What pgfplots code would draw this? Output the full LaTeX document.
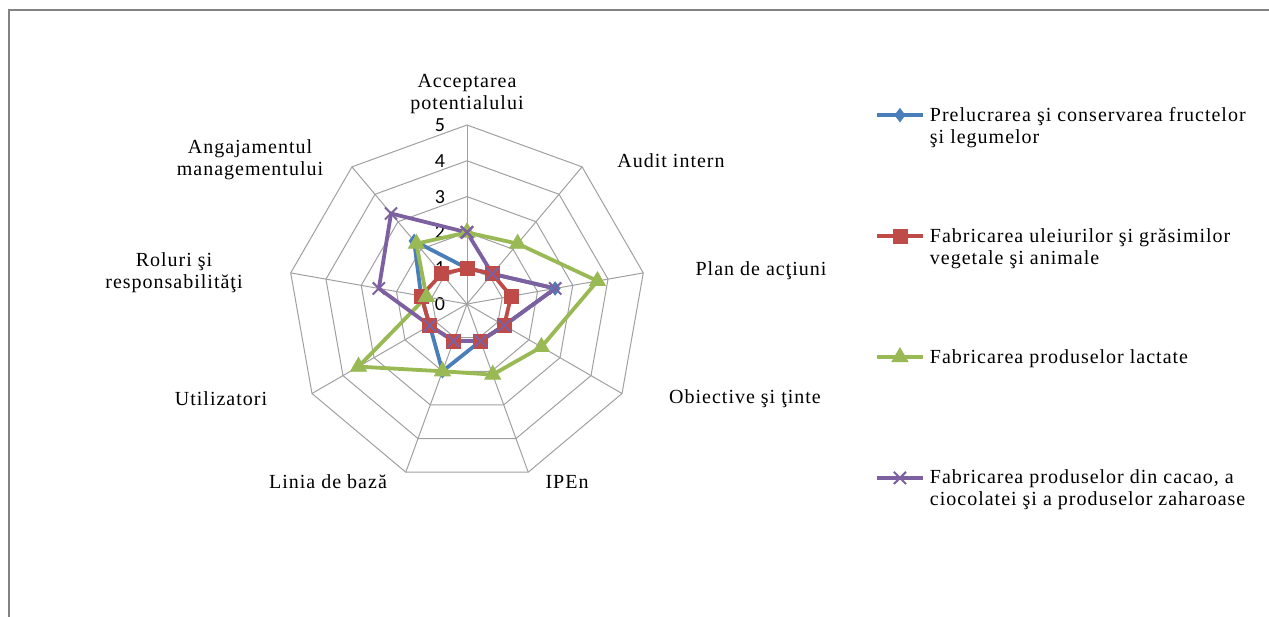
\documentclass[border=0pt]{standalone}
\usepackage{fontspec}
\setmainfont{Liberation Serif}[LetterSpace=5]
\newfontfamily\numfont{Carlito}
\usepackage{pgfplots}
\pgfplotsset{compat=1.18}
\usepgfplotslibrary{polar}
\definecolor{cblue}{RGB}{74,126,187}
\definecolor{cred}{RGB}{190,75,72}
\definecolor{cgreen}{RGB}{152,185,84}
\definecolor{cpurple}{RGB}{125,96,160}
\definecolor{cgrid}{RGB}{160,160,160}
\begin{document}
\begin{tikzpicture}
\path[use as bounding box] (0,0) rectangle (634.5pt,308pt);
\begin{scope}[x=0.5pt,y=-0.5pt,shift={(0pt,308pt)}]
  \draw[color={rgb,255:red,130;green,130;blue,130}, line width=1.1pt] (9,640) -- (9,10) -- (1290,10);
  \begin{scope}[every node/.style={inner sep=0pt, font=\fontsize{10}{11}\selectfont}]
    \node[align=center] at (467,94) {Acceptarea\\potentialului};
    \node at (671,161) {Audit intern};
    \node at (761,271) {Plan de acţiuni};
    \node at (745,399) {Obiective şi ţinte};
    \node at (567,482) {IPEn};
    \node at (328,482) {Linia de bază};
    \node at (221,399) {Utilizatori};
    \node[align=center] at (174,273) {Roluri şi\\responsabilităţi};
    \node[align=center] at (250,160) {Angajamentul\\managementului};
  \end{scope}
  \begin{scope}[every node/.style={inner sep=0pt, font=\numfont\fontsize{10}{12}\selectfont}]
    \node at (440,304) {0};
    \node at (440,268.2) {1};
    \node at (440,232.4) {2};
    \node at (440,196.6) {3};
    \node at (440,160.8) {4};
    \node at (440,125) {5};
  \end{scope}
\end{scope}
\begin{polaraxis}[
  at={(233.5pt,156pt)}, anchor=origin,
  scale only axis, width=179pt, height=179pt,
  hide axis, ymin=0, ymax=5, clip=false,
  legend style={at={(axis description cs:1.644,1.062)}, anchor=north west, draw=none, fill=none,
    inner sep=0pt, row sep=37pt, font=\fontsize{10}{11}\selectfont,
    cells={align=left, anchor=west}},
  legend cell align=left,
  legend image code/.code={\path[draw=none, fill=none, use as bounding box] (0pt,-9pt) rectangle (24.5pt,9pt);
    \draw[mark repeat=2,mark phase=2,#1] plot coordinates {(0pt,5.8pt) (11.5pt,5.8pt) (23pt,5.8pt)};},
]
% grid rings
\pgfplotsinvokeforeach{1,2,3,4,5}{
  \addplot[cgrid, line width=0.5pt, forget plot] coordinates {(90,#1) (50,#1) (10,#1) (-30,#1) (-70,#1) (-110,#1) (-150,#1) (170,#1) (130,#1) (90,#1)};
}
% spokes
\pgfplotsinvokeforeach{90,50,10,-30,-70,-110,-150,170,130}{
  \addplot[cgrid, line width=0.5pt, forget plot] coordinates {(#1,0) (#1,5)};
}
\addplot[cblue, line width=1.9pt, mark=diamond*, mark size=3.3pt, mark options={solid, line width=0.4pt}]
  coordinates {(90,1) (50,1.1) (10,2.5) (-30,1.2) (-70,1.1) (-110,2) (-150,1.2) (170,1.3) (130,2.3) (90,1)};
\addlegendentry{Prelucrarea şi conservarea fructelor\\şi legumelor}
\addplot[cred, line width=1.9pt, mark=square*, mark size=3.5pt, mark options={solid, line width=0.4pt}]
  coordinates {(90,1) (50,1.1) (10,1.25) (-30,1.2) (-70,1.1) (-110,1.1) (-150,1.2) (170,1.3) (130,1.1) (90,1)};
\addlegendentry{Fabricarea uleiurilor şi grăsimilor\\vegetale şi animale}
\addplot[cgreen, line width=1.9pt, mark=triangle*, mark size=4.6pt, mark options={solid, line width=0.4pt}]
  coordinates {(90,2) (50,2.2) (10,3.7) (-30,2.4) (-70,2.1) (-110,2) (-150,3.5) (170,1.15) (130,2.2) (90,2)};
\addlegendentry{Fabricarea produselor lactate\\\strut}
\addplot[cpurple, line width=1.9pt, mark=x, mark size=4.3pt, mark options={solid, line width=1pt}]
  coordinates {(90,2) (50,1.1) (10,2.5) (-30,1.2) (-70,1.1) (-110,1.1) (-150,1.2) (170,2.5) (130,3.3) (90,2)};
\addlegendentry{Fabricarea produselor din cacao, a\\ciocolatei şi a produselor zaharoase}
\end{polaraxis}
\end{tikzpicture}
\end{document}
